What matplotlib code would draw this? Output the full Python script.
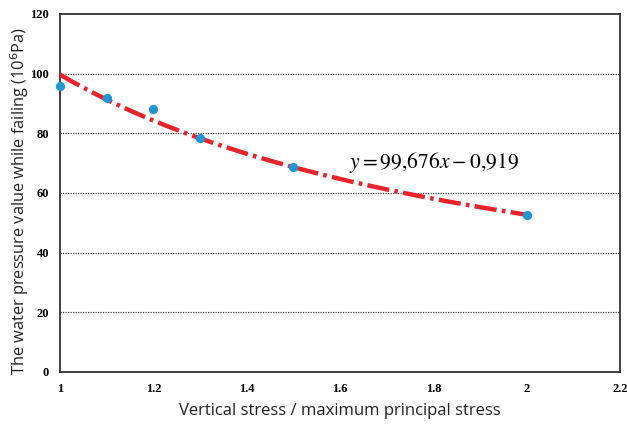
import numpy as np
import matplotlib
matplotlib.use("Agg")
import matplotlib.pyplot as plt

# ── Data ────────────────────────────────────────────────────
stress_ratio = [1.0, 1.1, 1.2, 1.3, 1.5, 2.0]
water_pressure = [96.0, 92.0, 88.3, 78.3, 68.8, 52.5]

fit_a = 99.676
fit_b = -0.919

x_ticks = [1, 1.2, 1.4, 1.6, 1.8, 2, 2.2]
x_ticklabels = ["1", "1.2", "1.4", "1.6", "1.8", "2", "2.2"]
y_ticks = [0, 20, 40, 60, 80, 100, 120]

fig = plt.figure(figsize=(6.27, 4.25), dpi=100)
ax = fig.add_axes([60 / 627, 1 - 372 / 425, 560 / 627, 358 / 425])

# fitted power curve
xf = np.linspace(1.0, 2.0, 200)
ax.plot(xf, fit_a * xf ** fit_b, color="#e8242a", linewidth=3.2,
        linestyle=(0, (5, 1.2, 0.8, 1.2)), zorder=3)

ax.scatter(stress_ratio, water_pressure, s=32, color="#1f97d4",
           zorder=4, clip_on=False)

ax.set_xlim(1, 2.2)
ax.set_ylim(0, 120)
ax.set_xticks(x_ticks)
ax.set_xticklabels(x_ticklabels)
ax.set_yticks(y_ticks)
ax.tick_params(length=0, pad=8, labelsize=9)
for lbl in ax.get_xticklabels() + ax.get_yticklabels():
    lbl.set_fontfamily("Liberation Serif")
    lbl.set_fontweight("bold")

for yv in y_ticks[1:-1]:
    ax.axhline(yv, color="#444444", linewidth=0.9, linestyle=(0, (1, 1)),
               zorder=1)

for spine in ax.spines.values():
    spine.set_color("#333333")
    spine.set_linewidth(1.3)

ax.set_xlabel("Vertical stress / maximum principal stress",
              fontfamily="Open Sans", fontsize=12, color="#222222", labelpad=6)
ax.set_ylabel("The water pressure value while failing (10$^6$Pa)",
              fontfamily="Open Sans", fontsize=11.8, color="#222222")
ax.yaxis.set_label_coords(-0.052, 0.478)

ax.text(1.62, 70.3, r"$y = 99{,}676x - 0{,}919$", fontsize=15.5,
        fontfamily="Liberation Serif", va="center", ha="left",
        math_fontfamily="stix")

fig.savefig("out.png", dpi=100)
